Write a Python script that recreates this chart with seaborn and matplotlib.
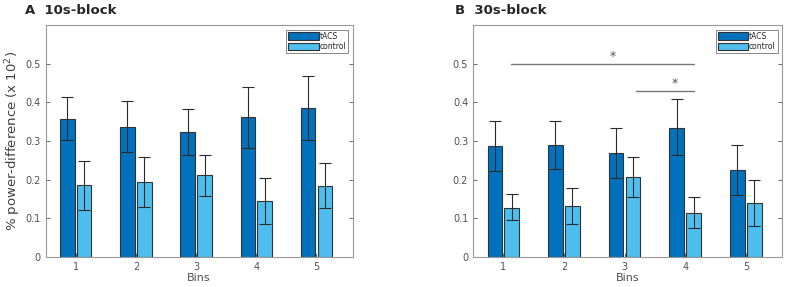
import numpy as np
import pandas as pd
import matplotlib
matplotlib.use('Agg')
import matplotlib.pyplot as plt
import seaborn as sns

# data
bins = ['1', '2', '3', '4', '5']
conds = ['tACS', 'control']

a_tacs = [0.357, 0.336, 0.324, 0.361, 0.385]
a_tacs_lo = [0.302, 0.271, 0.263, 0.282, 0.303]
a_tacs_hi = [0.415, 0.403, 0.383, 0.440, 0.468]
a_ctrl = [0.186, 0.195, 0.212, 0.146, 0.185]
a_ctrl_lo = [0.121, 0.130, 0.159, 0.086, 0.127]
a_ctrl_hi = [0.249, 0.260, 0.265, 0.205, 0.242]

b_tacs = [0.287, 0.289, 0.270, 0.335, 0.226]
b_tacs_lo = [0.223, 0.228, 0.205, 0.263, 0.161]
b_tacs_hi = [0.352, 0.352, 0.335, 0.408, 0.289]
b_ctrl = [0.128, 0.132, 0.207, 0.115, 0.140]
b_ctrl_lo = [0.095, 0.085, 0.155, 0.075, 0.080]
b_ctrl_hi = [0.163, 0.179, 0.258, 0.156, 0.200]

# significance bars in panel B: (x start, x end, y, star x)
sig_lines = [(0.13, 3.14, 0.50, 1.8), (2.19, 3.14, 0.43, 2.82)]

sns.set_style('white')
plt.rcParams['font.family'] = ['DejaVu Sans']

colors = ['#0072BD', '#4DBEEE']
grey = '#505050'


def panel(ax, tacs, tacs_lo, tacs_hi, ctrl, ctrl_lo, ctrl_hi):
    df = pd.DataFrame({
        'bin': bins * 2,
        'cond': ['tACS'] * 5 + ['control'] * 5,
        'val': tacs + ctrl,
    })
    sns.barplot(data=df, x='bin', y='val', hue='cond', hue_order=conds,
                palette=colors, width=0.56, gap=0.14, errorbar=None,
                edgecolor='#333333', linewidth=0.8, saturation=1, ax=ax)
    vals = [(tacs, tacs_lo, tacs_hi), (ctrl, ctrl_lo, ctrl_hi)]
    for cont, (v, lo, hi) in zip(ax.containers, vals):
        xs = [p.get_x() + p.get_width() / 2 for p in cont.patches]
        v = np.array(v)
        err = [v - np.array(lo), np.array(hi) - v]
        ax.errorbar(xs, v, yerr=err, fmt='none', ecolor='#2a2a2a',
                    elinewidth=0.8, capsize=4, capthick=0.8)
    ax.set_xlim(-0.5, 4.6)
    ax.set_ylim(0, 0.6)
    ax.set_yticks([0, 0.1, 0.2, 0.3, 0.4, 0.5])
    ax.set_yticklabels(['0', '0.1', '0.2', '0.3', '0.4', '0.5'])
    ax.tick_params(axis='both', labelsize=7, colors=grey, direction='in',
                   length=3, width=0.6, right=True, top=False, bottom=True, left=True)
    ax.set_xlabel('Bins', fontsize=8, color=grey, labelpad=1)
    ax.set_ylabel('')
    for s in ax.spines.values():
        s.set_color('#999999')
        s.set_linewidth(0.8)
    leg = ax.legend(loc='upper right', fontsize=5.5, handlelength=4.0,
                    handleheight=1.1, fancybox=False, edgecolor='#888888',
                    framealpha=1, borderpad=0.25, labelspacing=0.2,
                    handletextpad=0.1, borderaxespad=0.6)
    leg.get_frame().set_linewidth(0.7)


fig = plt.figure(figsize=(7.87, 2.87), dpi=100)
ax1 = fig.add_axes([0.058, 0.1045, 0.390, 0.808])
ax2 = fig.add_axes([0.601, 0.1045, 0.393, 0.808])

panel(ax1, a_tacs, a_tacs_lo, a_tacs_hi, a_ctrl, a_ctrl_lo, a_ctrl_hi)
panel(ax2, b_tacs, b_tacs_lo, b_tacs_hi, b_ctrl, b_ctrl_lo, b_ctrl_hi)

ax1.set_ylabel('% power-difference (x 10$^2$)', fontsize=9.5, color='#404040', labelpad=2)

for x0, x1, y, xs in sig_lines:
    ax2.plot([x0, x1], [y, y], color='#777777', lw=1.0)
    ax2.text(xs, y + 0.003, '*', ha='center', va='bottom', fontsize=9, color='#555555')

fig.text(0.032, 0.962, 'A  10s-block', fontsize=9.5, fontweight='bold', va='center')
fig.text(0.578, 0.962, 'B  30s-block', fontsize=9.5, fontweight='bold', va='center')

fig.savefig('out.png', dpi=100)
